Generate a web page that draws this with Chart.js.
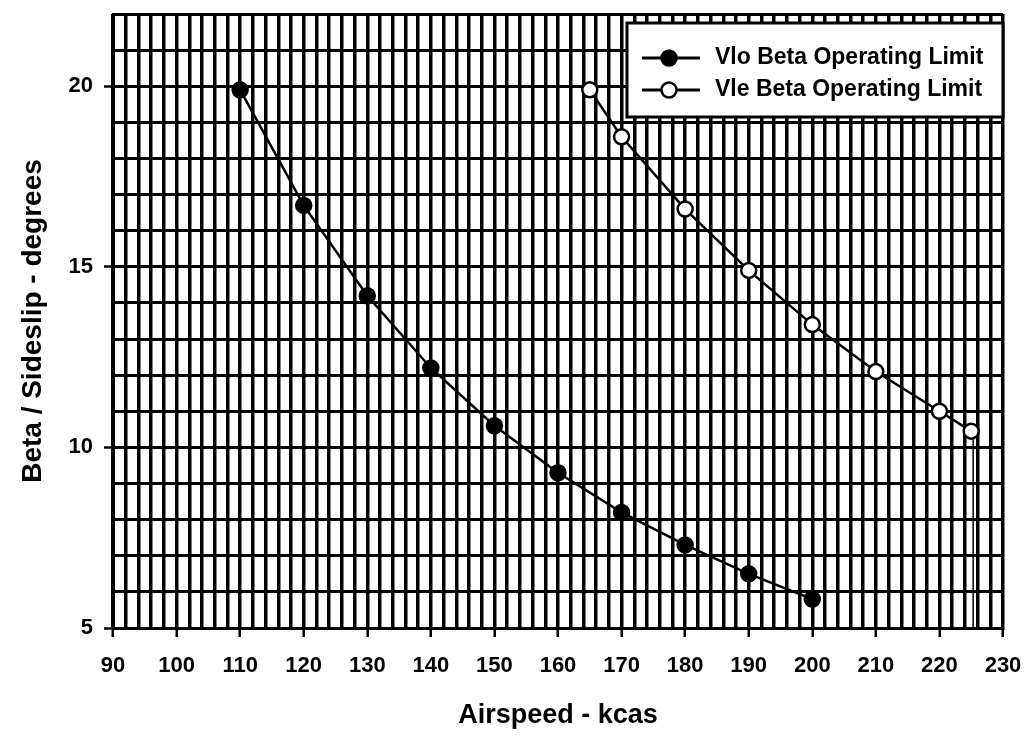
<!DOCTYPE html>
<html>
<head>
<meta charset="utf-8">
<script src="https://cdn.jsdelivr.net/npm/chart.js"></script>
<style>
  html, body { margin: 0; padding: 0; background: #fff; }
  #box { width: 1025px; height: 739px; }
</style>
</head>
<body>
<div id="box"><canvas id="beta"></canvas></div>
<script>
// airspeed (kcas) and beta (deg)
var vloSpeed = [110, 120, 130, 140, 150, 160, 170, 180, 190, 200];
var vloBeta  = [19.9, 16.7, 14.2, 12.2, 10.6, 9.3, 8.2, 7.3, 6.5, 5.8];
var vleSpeed = [165, 170, 180, 190, 200, 210, 220, 225];
var vleBeta  = [19.9, 18.6, 16.6, 14.9, 13.4, 12.1, 11.0, 10.45];
// the thin vertical drop under the last Vle point
var dropSpeed = [225.3, 225.3];
var dropBeta  = [10.45, 5];

var seriesNames = ['Vlo Beta Operating Limit', 'Vle Beta Operating Limit'];
var xTitle = 'Airspeed - kcas';
var yTitle = 'Beta / Sideslip - degrees';

function pts(xs, ys) {
  return xs.map(function (x, i) { return { x: x, y: ys[i] }; });
}

var fnt = '"Liberation Sans", Arial, sans-serif';
Chart.defaults.font.family = fnt;
Chart.defaults.color = '#000';

// legend drawn inside the plot (line + marker sample)
var boxLegend = {
  id: 'boxLegend',
  afterDraw: function (chart) {
    var c = chart.ctx, a = chart.chartArea;
    var w = 376, h = 94;
    var x0 = a.right - w, y0 = a.top + 9;
    c.save();
    c.fillStyle = '#fff';
    c.fillRect(x0, y0, w, h);
    c.lineWidth = 3;
    c.strokeStyle = '#000';
    c.strokeRect(x0, y0, w, h);
    c.font = 'bold 23px ' + fnt;
    c.textBaseline = 'middle';
    [0, 1].forEach(function (i) {
      var ds = chart.data.datasets[i];
      var yy = y0 + 35 + i * 32;
      c.lineWidth = 3;
      c.beginPath();
      c.moveTo(x0 + 15, yy);
      c.lineTo(x0 + 73, yy);
      c.stroke();
      c.beginPath();
      c.arc(x0 + 42, yy, 7.5, 0, Math.PI * 2);
      c.fillStyle = ds.pointBackgroundColor;
      c.fill();
      c.lineWidth = 2.5;
      c.stroke();
      c.fillStyle = '#000';
      c.fillText(ds.label, x0 + 88, yy);
    });
    c.restore();
  }
};

var ctx = document.getElementById('beta').getContext('2d');
var chartBeta = new Chart(ctx, {
  type: 'scatter',
  data: {
    datasets: [{
      label: seriesNames[0],
      data: pts(vloSpeed, vloBeta),
      showLine: true,
      borderColor: '#000',
      borderWidth: 2.5,
      pointRadius: 7.5,
      pointBackgroundColor: '#000',
      pointBorderColor: '#000'
    }, {
      label: seriesNames[1],
      data: pts(vleSpeed, vleBeta),
      showLine: true,
      borderColor: '#000',
      borderWidth: 2.5,
      pointRadius: 7.5,
      pointBorderWidth: 2.5,
      pointBackgroundColor: '#fff',
      pointBorderColor: '#000'
    }, {
      label: 'drop',
      data: pts(dropSpeed, dropBeta),
      showLine: true,
      borderColor: '#000',
      borderWidth: 1.5,
      pointRadius: 0
    }]
  },
  options: {
    responsive: true,
    maintainAspectRatio: false,
    animation: false,
    layout: { padding: { left: 0, top: 14, right: 22, bottom: 0 } },
    plugins: {
      legend: { display: false },
      tooltip: { enabled: false }
    },
    scales: {
      x: {
        type: 'linear',
        min: 90, max: 230,
        border: { color: '#000', width: 3 },
        grid: {
          color: '#000',
          lineWidth: 3.5,
          tickLength: 9,
          tickWidth: 2.5,
          tickColor: function (c) { return c.tick && c.tick.value % 10 === 0 ? '#000' : 'rgba(0,0,0,0)'; }
        },
        ticks: {
          stepSize: 2,
          autoSkip: false,
          maxRotation: 0,
          padding: 16,
          font: { size: 22, weight: 'bold' },
          callback: function (v) { return v % 10 === 0 ? v : ''; }
        },
        title: {
          display: true,
          text: xTitle,
          font: { size: 27, weight: 'bold' },
          padding: { top: 0, bottom: 7 }
        },
        afterFit: function (s) { s.height = 111; s.paddingLeft = 0; s.paddingRight = 0; }
      },
      y: {
        type: 'linear',
        min: 5, max: 22,
        border: { color: '#000', width: 3 },
        grid: {
          color: '#000',
          lineWidth: 3,
          tickLength: 9,
          tickWidth: 2.5,
          tickColor: function (c) { return c.tick && c.tick.value % 5 === 0 ? '#000' : 'rgba(0,0,0,0)'; }
        },
        ticks: {
          stepSize: 1,
          autoSkip: false,
          padding: 11,
          font: { size: 22, weight: 'bold' },
          callback: function (v) { return v % 5 === 0 ? v : ''; }
        },
        title: {
          display: true,
          text: yTitle,
          font: { size: 28, weight: 'bold' },
          padding: { top: 16, bottom: 0 }
        },
        afterFit: function (s) { s.width = 113; s.paddingTop = 0; s.paddingBottom = 0; }
      }
    }
  },
  plugins: [boxLegend]
});
</script>
</body>
</html>
